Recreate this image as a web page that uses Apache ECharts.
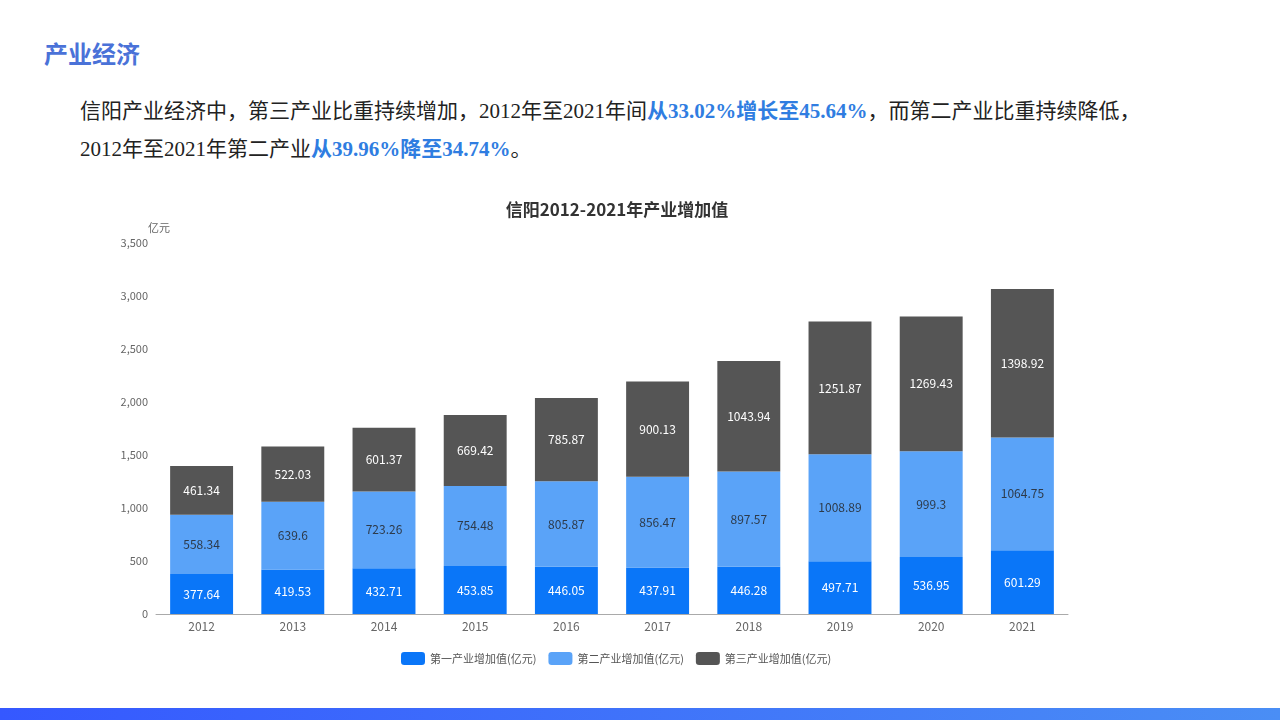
<!DOCTYPE html>
<html><head><meta charset="utf-8">
<script src="https://cdn.jsdelivr.net/npm/echarts@6/dist/echarts.min.js"></script>
<style>
html,body{margin:0;padding:0;width:1280px;height:720px;background:#fff;overflow:hidden;position:relative;font-family:"Liberation Serif","Noto Sans CJK SC",serif;}
#h{position:absolute;left:44px;top:38px;font-size:24px;line-height:34px;font-weight:bold;color:#4a72d8;font-family:"Liberation Serif","Noto Sans CJK SC",serif;}
.p{position:absolute;left:80px;font-size:21px;line-height:30px;color:#222;white-space:nowrap;}
.p b{color:#2f7de1;font-weight:bold;}
#l1{top:96px;} #l2{top:134px;}
#chart{position:absolute;left:0;top:180px;width:1280px;height:510px;}
#bar{position:absolute;left:0;top:708px;width:1280px;height:12px;background:linear-gradient(90deg,#3558ff,#4a8ef5);}
</style></head>
<body>
<div id="h">产业经济</div>
<div class="p" id="l1">信阳产业经济中，第三产业比重持续增加，2012年至2021年间<b>从33.02%增长至45.64%</b>，而第二产业比重持续降低，</div>
<div class="p" id="l2">2012年至2021年第二产业<b>从39.96%降至34.74%</b>。</div>
<div id="chart"></div>
<div id="bar"></div>
<script>
const years = ['2012','2013','2014','2015','2016','2017','2018','2019','2020','2021'];
const primary = [377.64,419.53,432.71,453.85,446.05,437.91,446.28,497.71,536.95,601.29];
const secondary = [558.34,639.6,723.26,754.48,805.87,856.47,897.57,1008.89,999.3,1064.75];
const tertiary = [461.34,522.03,601.37,669.42,785.87,900.13,1043.94,1251.87,1269.43,1398.92];
const seriesNames = ['第一产业增加值(亿元)','第二产业增加值(亿元)','第三产业增加值(亿元)'];
const colors = ['#0a76f8','#5aa3f8','#555555'];
const labelColors = ['#ffffff','#2d3a4a','#ffffff'];
const font = '"Noto Sans CJK SC","Open Sans",sans-serif';
const chart = echarts.init(document.getElementById('chart'));
const data = [primary, secondary, tertiary];
chart.setOption({
  animation:false,
  textStyle:{fontFamily:font},
  title:{text:'信阳2012-2021年产业增加值',left:612,textAlign:'center',top:16,
    textStyle:{fontSize:17,fontWeight:'bold',color:'#333',fontFamily:font}},
  legend:{bottom:20,left:396,itemWidth:24,itemHeight:13,itemGap:12,
    textStyle:{fontSize:11,color:'#555',fontFamily:font},
    data:seriesNames},
  grid:{left:156,right:212,top:63,bottom:76},
  xAxis:{type:'category',data:years,
    axisLine:{lineStyle:{color:'#aaa'}},axisTick:{show:false},
    axisLabel:{color:'#666',fontSize:12,margin:6}},
  yAxis:{type:'value',min:0,max:3500,interval:500,name:'亿元',nameGap:10,
    nameTextStyle:{color:'#666',fontSize:11,align:'right',padding:[0,-14,0,0]},
    axisLabel:{color:'#666',fontSize:11,formatter:v=>v.toLocaleString('en-US')},
    splitLine:{show:false},axisLine:{show:false},axisTick:{show:false}},
  series: seriesNames.map((n,i)=>({
    name:n,type:'bar',stack:'total',barWidth:'69%',data:data[i],
    itemStyle:{color:colors[i]},
    label:{show:true,position:'inside',color:labelColors[i],fontSize:12,fontFamily:font}
  }))
});
</script>
</body></html>
